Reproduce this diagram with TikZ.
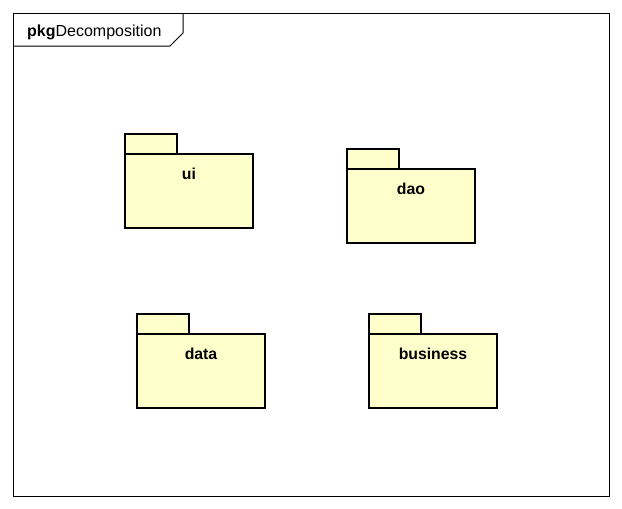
\documentclass[tikz,border=0pt]{standalone}
\usepackage{fontspec}
\setmainfont{Liberation Sans}
\usepackage{xcolor}
\usetikzlibrary{positioning}

\definecolor{pkgfill}{RGB}{255,255,204}

\begin{document}
\begin{tikzpicture}[
      x=1pt, y=-1pt,
      pkgbody/.style={draw, line width=2.6pt, fill=pkgfill, minimum width=128pt, minimum height=74pt, inner sep=0pt, outer sep=0pt},
      pkgtab/.style={draw, line width=2.6pt, fill=pkgfill, minimum width=52pt, minimum height=20pt, inner sep=0pt, outer sep=0pt},
      pkgname/.style={font=\fontsize{15.8}{18}\selectfont\bfseries, inner sep=0pt, text height=11pt, text depth=3pt},
      frame/.style={draw, line width=1pt}
    ]
    \useasboundingbox (0,0) rectangle (622,509);
    \fill[white] (0,0) rectangle (622,509);
    % diagram frame
    \draw[frame] (13,13) rectangle (609,496);
    \draw[frame] (13,46) -- (170,46) -- (183,33) -- (183,13);
    \node[anchor=west, inner sep=0pt, font=\fontsize{16}{18}\selectfont] (title) at (27,32) {\textbf{pkg}Decomposition};
    % packages
    \node[pkgbody] (ui)  at (189,191) {};
    \node[pkgtab, above right=0pt and 0pt of ui.north west] (uitab) {};
    \node[pkgname, below=14.5pt of ui.north] (uiname) {ui};
    \node[pkgbody] (dao) at (411,206) {};
    \node[pkgtab, above right=0pt and 0pt of dao.north west] (daotab) {};
    \node[pkgname, below=14.5pt of dao.north] (daoname) {dao};
    \node[pkgbody] (data) at (201,371) {};
    \node[pkgtab, above right=0pt and 0pt of data.north west] (datatab) {};
    \node[pkgname, below=14.5pt of data.north] (dataname) {data};
    \node[pkgbody] (business) at (433,371) {};
    \node[pkgtab, above right=0pt and 0pt of business.north west] (businesstab) {};
    \node[pkgname, below=14.5pt of business.north] (businessname) {business};
  \end{tikzpicture}
\end{document}
